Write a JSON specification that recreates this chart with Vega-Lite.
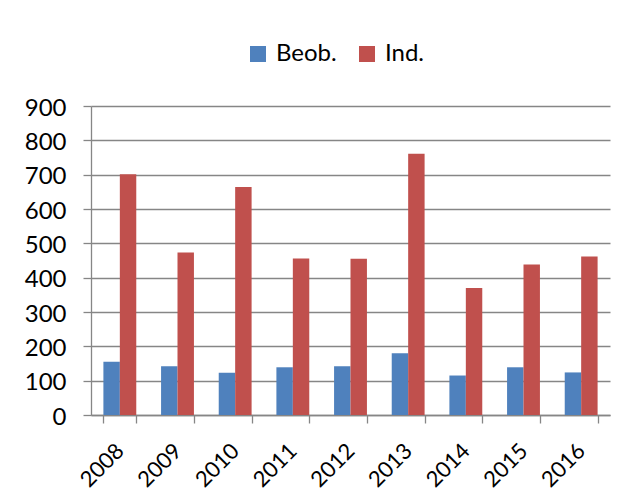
{
  "$schema": "https://vega.github.io/schema/vega-lite/v6.json",
  "autosize": "none",
  "padding": {"left": 91, "top": 106, "right": 19, "bottom": 88},
  "width": 519,
  "height": 309,
  "background": "white",
  "config": {
    "view": {"stroke": null},
    "font": "Lato",
    "axis": {"labelFont": "Lato", "labelColor": "#000000", "labelFontSize": 24, "domainColor": "#868686", "tickColor": "#868686", "gridColor": "#868686", "domainWidth": 1.3, "tickWidth": 1.3, "gridWidth": 1.3}
  },
  "data": {
    "values": [
      {"year": "2008", "series": "Beob.", "value": 155},
      {"year": "2008", "series": "Ind.", "value": 701},
      {"year": "2009", "series": "Beob.", "value": 142},
      {"year": "2009", "series": "Ind.", "value": 473},
      {"year": "2010", "series": "Beob.", "value": 123},
      {"year": "2010", "series": "Ind.", "value": 664},
      {"year": "2011", "series": "Beob.", "value": 139},
      {"year": "2011", "series": "Ind.", "value": 456},
      {"year": "2012", "series": "Beob.", "value": 142},
      {"year": "2012", "series": "Ind.", "value": 455},
      {"year": "2013", "series": "Beob.", "value": 180},
      {"year": "2013", "series": "Ind.", "value": 761},
      {"year": "2014", "series": "Beob.", "value": 115},
      {"year": "2014", "series": "Ind.", "value": 370},
      {"year": "2015", "series": "Beob.", "value": 139},
      {"year": "2015", "series": "Ind.", "value": 438},
      {"year": "2016", "series": "Beob.", "value": 124},
      {"year": "2016", "series": "Ind.", "value": 462}
    ]
  },
  "mark": {"type": "bar"},
  "encoding": {
    "x": {
      "field": "year", "type": "nominal", "title": null,
      "scale": {"paddingInner": 0.43, "paddingOuter": 0.215},
      "axis": {"labelAngle": -45, "labelAlign": "right", "labelBaseline": "middle", "labelFontSize": 22, "labelPadding": 24, "labelOffset": 0, "tickBand": "extent", "tickSize": 8, "grid": false}
    },
    "xOffset": {"field": "series", "type": "nominal", "sort": ["Beob.", "Ind."]},
    "y": {
      "field": "value", "type": "quantitative", "title": null,
      "scale": {"domain": [0, 900], "nice": false},
      "axis": {"values": [0, 100, 200, 300, 400, 500, 600, 700, 800, 900], "tickSize": 8, "labelPadding": 17, "labelOffset": 2, "grid": true}
    },
    "color": {
      "field": "series", "type": "nominal",
      "scale": {"domain": ["Beob.", "Ind."], "range": ["#4F81BD", "#C0504D"]},
      "legend": {"title": null, "orient": "none", "legendX": 155, "legendY": -64, "direction": "horizontal", "symbolType": "square", "symbolSize": 256, "symbolStrokeWidth": 0, "symbolOpacity": 1, "labelFontSize": 24, "labelFont": "Lato", "labelColor": "#000000", "labelOffset": 6, "columnPadding": 18}
    }
  }
}
